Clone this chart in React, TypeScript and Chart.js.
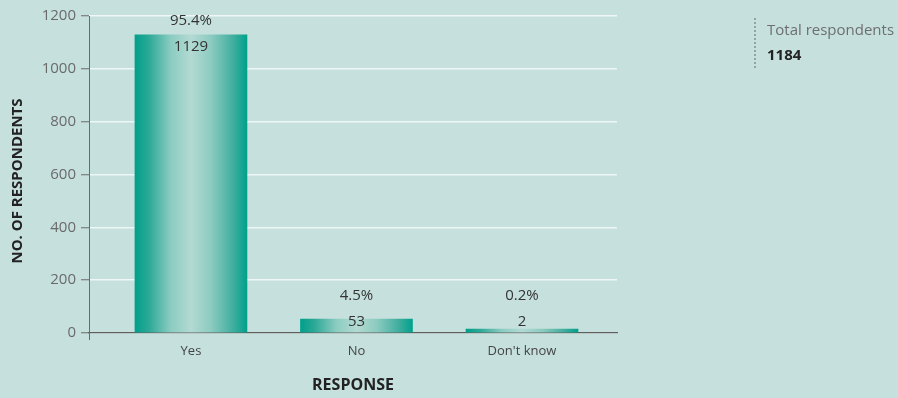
import React, { useEffect, useRef } from "react";
import { Chart, registerables } from "chart.js";

Chart.register(...registerables);

const categories = ["Yes", "No", "Don't know"];
const counts = [1129, 53, 2];
const percents = ["95.4%", "4.5%", "0.2%"];
const yTicks = [0, 200, 400, 600, 800, 1000, 1200];
const totalLabel = "Total respondents";
const totalValue = "1184";
const yTitle = "NO. OF RESPONDENTS";
const xTitle = "RESPONSE";

const FONT = "'Open Sans', 'DejaVu Sans', sans-serif";
const BG = "#c6e1dd";

export default function App() {
  const ref = useRef<HTMLCanvasElement | null>(null);

  useEffect(() => {
    const canvas = ref.current;
    if (!canvas) return;

    const gradientCache: Record<string, CanvasGradient> = {};

    const barFill = (ctx: any) => {
      const chart = ctx.chart;
      const xs = chart.scales?.x;
      if (!chart.chartArea || !xs || ctx.dataIndex === undefined) return "#3aae9e";
      const cx = xs.getPixelForValue(ctx.dataIndex);
      const key = String(Math.round(cx));
      if (gradientCache[key]) return gradientCache[key];
      const g = chart.ctx.createLinearGradient(cx - 56, 0, cx + 56, 0);
      g.addColorStop(0, "#00a08b");
      g.addColorStop(0.12, "#2aa896");
      g.addColorStop(0.32, "#8bccc1");
      g.addColorStop(0.5, "#b3dad3");
      g.addColorStop(0.68, "#8ccbc0");
      g.addColorStop(0.88, "#3eae9e");
      g.addColorStop(1, "#00a18c");
      gradientCache[key] = g;
      return g;
    };

    const overlay = {
      id: "overlay",
      beforeDraw(chart: any) {
        const c = chart.ctx;
        c.save();
        c.fillStyle = BG;
        c.fillRect(0, 0, chart.width, chart.height);
        c.restore();
      },
      afterDraw(chart: any) {
        const c = chart.ctx;
        const area = chart.chartArea;
        const ys = chart.scales.y;
        const meta = chart.getDatasetMeta(0);
        c.save();
        c.strokeStyle = "#6a6a6a";
        c.lineWidth = 1;
        c.beginPath();
        c.moveTo(area.left + 0.5, area.top);
        c.lineTo(area.left + 0.5, area.bottom + 7);
        c.stroke();

        const zero = ys.getPixelForValue(0);
        c.fillStyle = "#333333";
        c.font = `15px ${FONT}`;
        c.textAlign = "center";
        c.textBaseline = "middle";
        meta.data.forEach((bar: any, i: number) => {
          const top = bar.y;
          const pctY = Math.min(top - 14, zero - 37);
          const cntY = Math.min(top + 12, zero - 11);
          c.fillText(percents[i], bar.x, pctY);
          c.fillText(String(counts[i]), bar.x, cntY);
        });

        c.fillStyle = "#222222";
        c.font = `bold 16px ${FONT}`;
        c.fillText(xTitle, 353, 385);
        c.save();
        c.translate(18, 181);
        c.rotate(-Math.PI / 2);
        c.font = `bold 15px ${FONT}`;
        c.fillText(yTitle, 0, 0);
        c.restore();

        c.strokeStyle = "#8a8a8a";
        c.lineWidth = 1.5;
        c.setLineDash([2, 2]);
        c.beginPath();
        c.moveTo(755, 18);
        c.lineTo(755, 69);
        c.stroke();
        c.setLineDash([]);
        c.textAlign = "left";
        c.fillStyle = "#6e6e6e";
        c.font = `15px ${FONT}`;
        c.fillText(totalLabel, 767, 31);
        c.fillStyle = "#222222";
        c.font = `bold 15px ${FONT}`;
        c.fillText(totalValue, 767, 56);
        c.restore();
      },
    };

    const chart = new Chart(canvas, {
      type: "bar",
      data: {
        labels: categories,
        datasets: [
          {
            data: counts.map((v, i) => ({ x: i, y: v })),
            backgroundColor: barFill,
            borderWidth: 0,
            barThickness: 112,
            minBarLength: 4,
          },
        ],
      },
      options: {
        animation: false,
        responsive: false,
        maintainAspectRatio: false,
        layout: { padding: { top: 16, right: 281, bottom: 0, left: 0 } },
        plugins: {
          legend: { display: false },
          tooltip: { enabled: false },
          title: { display: false },
        },
        scales: {
          x: {
            type: "linear",
            offset: false,
            min: -0.616,
            max: 2.574,
            afterDataLimits: (axis: any) => {
              axis.min = -0.616;
              axis.max = 2.574;
            },
            afterBuildTicks: (axis: any) => {
              axis.ticks = categories.map((_, i) => ({ value: i }));
            },
            afterFit: (axis: any) => {
              axis.height = 65;
            },
            ticks: {
              callback: (v: any) => categories[v as number] ?? "",
              color: "#444444",
              font: { family: FONT, size: 13 },
              padding: 10,
              maxRotation: 0,
              autoSkip: false,
            },
            grid: { display: false, drawTicks: false, offset: false },
            border: { display: true, color: "#5e5e5e", width: 1.2 },
          },
          y: {
            min: 0,
            max: 1200,
            afterBuildTicks: (axis: any) => {
              axis.ticks = yTicks.map((v) => ({ value: v }));
            },
            afterFit: (axis: any) => {
              axis.width = 89;
            },
            ticks: {
              callback: (v: any) => String(v),
              color: "#6a6a6a",
              font: { family: FONT, size: 15 },
              padding: 5,
            },
            grid: {
              color: "#eef7f5",
              lineWidth: 1.5,
              tickColor: "#6a6a6a",
              tickLength: 8,
              tickWidth: 1,
              drawTicks: true,
            },
            border: { display: false },
          },
        },
      },
      plugins: [overlay],
    });

    return () => chart.destroy();
  }, []);

  return (
    <div style={{ position: "fixed", left: 0, top: 0, width: 898, height: 398, background: BG }}>
      <canvas ref={ref} width={898} height={398} style={{ display: "block", width: 898, height: 398 }} />
    </div>
  );
}
